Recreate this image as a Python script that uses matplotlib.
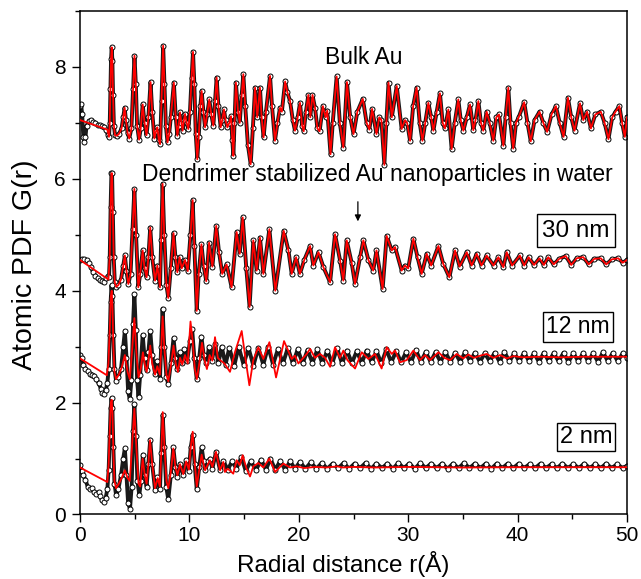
import matplotlib
matplotlib.use("Agg")
import matplotlib.pyplot as plt
from matplotlib.ticker import MultipleLocator

plt.rcParams['font.family'] = ['Liberation Sans', 'DejaVu Sans']

# ---------------- data: (r [Å], G(r)) ----------------
bulk_data = [
    (0.0, 7.30), (0.1, 7.33), (0.2, 7.15), (0.3, 6.75), (0.4, 6.66), (0.5, 6.75), (0.6, 6.95),
    (0.8, 7.03), (1.0, 7.05), (1.2, 7.02), (1.4, 7.00), (1.6, 6.97), (1.8, 6.96), (2.0, 6.94),
    (2.2, 6.92), (2.4, 6.88), (2.55, 6.78), (2.65, 6.75), (2.72, 7.0), (2.78, 7.6), (2.84, 8.15),
    (2.9, 8.35), (2.96, 8.1), (3.02, 7.5), (3.1, 6.95), (3.2, 6.78), (3.35, 6.77), (3.55, 6.8),
    (3.8, 6.9), (3.95, 7.1), (4.08, 7.27), (4.2, 7.05), (4.35, 6.82), (4.5, 6.72), (4.7, 6.9),
    (4.85, 7.6), (4.98, 8.2), (5.1, 7.7), (5.22, 6.95), (5.4, 6.7), (5.55, 6.9), (5.73, 7.33),
    (5.9, 7.0), (6.08, 6.78), (6.25, 7.1), (6.45, 7.73), (6.6, 7.2), (6.8, 6.72), (6.95, 6.85),
    (7.07, 6.92), (7.2, 6.7), (7.32, 6.62), (7.45, 7.4), (7.6, 8.38), (7.72, 7.7), (7.85, 6.95),
    (8.0, 6.65), (8.15, 6.8), (8.3, 7.1), (8.58, 7.72), (8.75, 7.1), (8.9, 6.77), (9.02, 6.95),
    (9.14, 7.19), (9.27, 7.0), (9.38, 6.86), (9.5, 7.05), (9.6, 7.16), (9.75, 7.0), (9.9, 6.89),
    (10.05, 7.2), (10.2, 7.8), (10.33, 8.27), (10.45, 7.7), (10.58, 6.8), (10.72, 6.35),
    (10.85, 6.75), (11.0, 7.3), (11.12, 7.57), (11.28, 7.2), (11.43, 6.92), (11.62, 7.15),
    (11.82, 7.42), (12.0, 7.15), (12.19, 6.95), (12.35, 7.4), (12.49, 7.81), (12.65, 7.3),
    (12.86, 6.92), (13.0, 7.05), (13.16, 7.24), (13.3, 7.05), (13.47, 6.92), (13.65, 7.0),
    (13.8, 7.12), (13.92, 6.7), (14.02, 6.41), (14.12, 7.0), (14.25, 7.72), (14.45, 7.2),
    (14.6, 7.0), (14.78, 7.5), (14.93, 7.87), (15.1, 7.3), (15.35, 6.6), (15.6, 6.26),
    (15.8, 6.9), (16.0, 7.63), (16.2, 7.1), (16.45, 7.63), (16.6, 7.1), (16.78, 6.74),
    (17.0, 7.2), (17.37, 7.84), (17.55, 7.3), (17.82, 6.68), (18.05, 7.0), (18.28, 7.27),
    (18.45, 7.2), (18.75, 7.74), (18.95, 7.55), (19.2, 7.39), (19.45, 7.05), (19.65, 6.86),
    (19.9, 7.1), (20.11, 7.36), (20.3, 6.95), (20.45, 6.85), (20.65, 7.2), (20.87, 7.5),
    (21.05, 7.1), (21.25, 7.5), (21.48, 7.27), (21.7, 6.9), (21.9, 6.85), (22.2, 7.3),
    (22.45, 7.1), (22.6, 7.22), (22.9, 6.44), (23.1, 7.0), (23.46, 7.83), (23.75, 7.0),
    (24.07, 6.56), (24.4, 7.73), (24.7, 7.1), (25.0, 6.8), (25.35, 7.2), (25.85, 7.43),
    (26.2, 7.0), (26.45, 6.88), (26.7, 7.25), (27.1, 6.8), (27.35, 7.1), (27.55, 7.05),
    (27.82, 6.25), (28.0, 7.0), (28.2, 7.72), (28.5, 7.1), (28.95, 7.66), (29.4, 6.89),
    (29.7, 7.05), (29.9, 7.0), (30.17, 6.68), (30.45, 7.3), (30.77, 7.63), (31.05, 7.0),
    (31.3, 6.68), (31.55, 7.0), (31.84, 7.36), (32.1, 7.1), (32.3, 6.86), (32.6, 7.2),
    (32.9, 7.53), (33.15, 7.0), (33.36, 6.9), (33.67, 7.24), (33.97, 6.53), (34.25, 7.0),
    (34.58, 7.42), (34.8, 7.05), (35.04, 6.86), (35.35, 7.1), (35.65, 7.33), (35.95, 6.87),
    (36.15, 7.05), (36.41, 7.39), (36.65, 7.0), (36.86, 6.86), (37.17, 7.2), (37.45, 7.0),
    (37.78, 6.68), (38.05, 7.1), (38.3, 7.15), (38.7, 6.59), (38.9, 7.1), (39.15, 7.63),
    (39.35, 7.0), (39.6, 6.54), (39.85, 7.0), (40.1, 7.1), (40.6, 7.37), (40.9, 7.0),
    (41.2, 6.67), (41.55, 7.05), (42.0, 7.2), (42.35, 7.0), (42.7, 6.84), (43.1, 7.15),
    (43.5, 7.3), (43.85, 7.0), (44.2, 6.75), (44.6, 7.45), (44.9, 7.1), (45.2, 6.86),
    (45.7, 7.35), (46.0, 7.05), (46.35, 7.2), (46.7, 6.9), (47.1, 7.15), (47.6, 7.2),
    (47.95, 7.0), (48.3, 6.71), (48.65, 7.1), (48.95, 7.2), (49.3, 7.3), (49.55, 7.0),
    (49.8, 6.75), (50.0, 7.1),
]
bulk_fit_start = [(0.0, 7.05), (2.5, 6.88)]

nm30_data = [
    (0.0, 4.55), (0.2, 4.56), (0.4, 4.56), (0.6, 4.55), (0.8, 4.5), (1.0, 4.42), (1.2, 4.33),
    (1.4, 4.27), (1.6, 4.22), (1.8, 4.2), (2.0, 4.17), (2.2, 4.16), (2.4, 4.22), (2.55, 4.26),
    (2.65, 4.24), (2.72, 4.6), (2.8, 5.5), (2.87, 6.1), (2.93, 6.1), (3.0, 5.4), (3.08, 4.6),
    (3.18, 4.15), (3.3, 4.07), (3.5, 4.1), (3.75, 4.2), (3.95, 4.45), (4.1, 4.63), (4.25, 4.35),
    (4.42, 4.12), (4.62, 4.3), (4.8, 5.1), (4.97, 5.82), (5.12, 5.0), (5.33, 4.06), (5.5, 4.3),
    (5.73, 4.72), (5.9, 4.4), (6.09, 4.24), (6.25, 4.6), (6.42, 5.13), (6.6, 4.6), (6.86, 4.18),
    (7.07, 4.45), (7.31, 4.06), (7.42, 4.9), (7.55, 5.91), (7.7, 5.0), (7.9, 4.1), (8.07, 3.87),
    (8.3, 4.4), (8.55, 5.03), (8.72, 4.6), (8.9, 4.33), (9.1, 4.6), (9.3, 4.4), (9.6, 4.55),
    (9.85, 4.35), (10.1, 5.0), (10.3, 5.62), (10.45, 4.8), (10.67, 3.64), (10.85, 4.3),
    (11.1, 4.83), (11.3, 4.45), (11.54, 4.17), (11.8, 4.86), (12.1, 4.43), (12.45, 5.16),
    (12.7, 4.7), (13.0, 4.3), (13.4, 4.47), (13.86, 4.06), (14.32, 5.05), (14.6, 4.66),
    (14.87, 5.31), (15.2, 4.4), (15.5, 3.71), (15.84, 4.9), (16.15, 4.36), (16.45, 4.95),
    (16.76, 4.3), (17.31, 5.1), (17.85, 4.0), (18.62, 5.07), (19.05, 4.72), (19.35, 4.3),
    (19.75, 4.6), (20.1, 4.3), (20.5, 4.55), (21.03, 4.8), (21.33, 4.45), (21.8, 4.69),
    (22.25, 4.42), (22.86, 4.15), (23.31, 5.01), (23.77, 4.54), (24.07, 4.18), (24.38, 4.9),
    (24.83, 4.5), (25.14, 4.12), (25.6, 4.6), (25.9, 4.9), (26.36, 4.55), (26.8, 4.36),
    (27.1, 4.72), (27.66, 4.03), (28.03, 4.98), (28.5, 4.72), (28.8, 4.78), (29.4, 4.36),
    (29.7, 4.45), (30.0, 4.4), (30.47, 4.93), (30.85, 4.6), (31.23, 4.3), (31.69, 4.66),
    (32.1, 4.45), (32.76, 4.8), (33.2, 4.48), (33.76, 4.24), (34.28, 4.72), (34.7, 4.43),
    (35.35, 4.69), (35.8, 4.45), (36.26, 4.66), (36.7, 4.45), (37.17, 4.63), (37.8, 4.45),
    (38.24, 4.6), (38.7, 4.42), (39.0, 4.69), (39.5, 4.45), (40.2, 4.63), (40.6, 4.45),
    (41.0, 4.6), (41.5, 4.46), (42.0, 4.58), (42.4, 4.46), (42.8, 4.6), (43.3, 4.47),
    (43.8, 4.57), (44.4, 4.62), (44.9, 4.46), (45.4, 4.58), (46.0, 4.6), (46.5, 4.47),
    (47.0, 4.57), (47.6, 4.58), (48.1, 4.47), (48.6, 4.56), (49.2, 4.58), (49.6, 4.5),
    (50.0, 4.55),
]
nm30_fit_start = [(0.0, 4.55), (2.6, 4.2)]

nm12_data = [
    (0.0, 2.85), (0.15, 2.8), (0.3, 2.68), (0.5, 2.6), (0.7, 2.57), (0.9, 2.52), (1.1, 2.5),
    (1.3, 2.48), (1.5, 2.42), (1.7, 2.35), (1.9, 2.25), (2.05, 2.18), (2.2, 2.16), (2.35, 2.22),
    (2.5, 2.35), (2.62, 2.6), (2.72, 3.2), (2.8, 3.8), (2.88, 4.1), (2.96, 3.9), (3.05, 3.2),
    (3.15, 2.6), (3.3, 2.39), (3.5, 2.45), (3.75, 2.6), (3.95, 3.0), (4.1, 3.28), (4.25, 2.8),
    (4.4, 2.2), (4.55, 2.06), (4.7, 2.4), (4.85, 3.4), (4.97, 3.94), (5.1, 3.3), (5.22, 2.4),
    (5.35, 2.1), (5.5, 2.5), (5.73, 3.21), (5.9, 2.8), (6.09, 2.58), (6.25, 2.9), (6.42, 3.28),
    (6.6, 2.85), (6.86, 2.52), (7.07, 2.75), (7.31, 2.43), (7.42, 3.0), (7.55, 3.68), (7.7, 3.0),
    (7.9, 2.45), (8.07, 2.33), (8.3, 2.7), (8.55, 3.15), (8.72, 2.8), (8.9, 2.6), (9.1, 2.9),
    (9.3, 2.7), (9.55, 2.95), (9.8, 2.75), (10.05, 3.1), (10.25, 3.31), (10.45, 2.8),
    (10.67, 2.42), (10.9, 2.8), (11.1, 3.18), (11.3, 2.85), (11.55, 2.7), (11.8, 3.0),
    (12.05, 2.75), (12.35, 3.05), (12.65, 2.7), (12.95, 3.0), (13.3, 2.68), (13.65, 2.98),
    (14.1, 2.66), (14.5, 3.0), (14.95, 2.68), (15.4, 2.98), (15.85, 2.66), (16.3, 2.98),
    (16.75, 2.68), (17.2, 3.0), (17.65, 2.68), (18.1, 2.96), (18.55, 2.7), (19.0, 2.98),
    (19.45, 2.7), (19.9, 2.95), (20.35, 2.7), (20.8, 2.94), (21.25, 2.71), (21.7, 2.95),
    (22.15, 2.7), (22.6, 2.93), (23.05, 2.7), (23.5, 2.97), (23.95, 2.7), (24.4, 2.93),
    (24.85, 2.71), (25.3, 2.92), (25.75, 2.71), (26.2, 2.93), (26.65, 2.72), (27.1, 2.92),
    (27.55, 2.7), (28.0, 2.95), (28.45, 2.72), (28.9, 2.92), (29.35, 2.72), (29.8, 2.9),
    (30.25, 2.72), (30.7, 2.94), (31.15, 2.73), (31.6, 2.9), (32.05, 2.73), (32.5, 2.9),
    (32.95, 2.73), (33.4, 2.9), (33.85, 2.73), (34.3, 2.89), (34.75, 2.73), (35.2, 2.9),
    (35.65, 2.74), (36.1, 2.89), (36.55, 2.73), (37.0, 2.88), (37.45, 2.74), (37.9, 2.89),
    (38.35, 2.73), (38.8, 2.9), (39.25, 2.74), (39.7, 2.88), (40.15, 2.74), (40.6, 2.89),
    (41.05, 2.74), (41.5, 2.88), (41.95, 2.73), (42.4, 2.89), (42.85, 2.74), (43.3, 2.88),
    (43.75, 2.74), (44.2, 2.89), (44.65, 2.73), (45.1, 2.88), (45.55, 2.74), (46.0, 2.89),
    (46.45, 2.74), (46.9, 2.88), (47.35, 2.73), (47.8, 2.9), (48.25, 2.74), (48.7, 2.89),
    (49.15, 2.74), (49.6, 2.88), (50.0, 2.8),
]
nm12_fit = [
    (0.0, 2.79), (2.45, 2.49), (2.6, 2.7), (2.72, 3.3), (2.82, 3.9), (2.9, 4.0), (2.97, 3.7),
    (3.05, 3.0), (3.15, 2.55), (3.3, 2.42), (3.55, 2.5), (3.8, 2.62), (4.1, 2.85), (4.35, 2.55),
    (4.55, 2.42), (4.75, 2.9), (4.97, 3.51), (5.15, 2.9), (5.35, 2.45), (5.55, 2.6), (5.75, 2.9),
    (5.95, 2.65), (6.1, 2.55), (6.25, 2.75), (6.42, 3.02), (6.6, 2.7), (6.86, 2.5), (7.07, 2.65),
    (7.3, 2.5), (7.43, 3.0), (7.55, 3.54), (7.7, 3.0), (7.9, 2.5), (8.07, 2.38), (8.3, 2.65),
    (8.55, 3.02), (8.75, 2.7), (8.95, 2.55), (9.15, 2.8), (9.35, 2.68), (9.6, 2.85), (9.85, 2.7),
    (10.1, 3.45), (10.3, 3.1), (10.5, 2.6), (10.68, 2.42), (10.9, 2.7), (11.15, 3.07),
    (11.4, 2.75), (11.6, 2.6), (11.85, 2.85), (12.1, 2.75), (12.34, 3.17), (12.6, 2.8),
    (12.8, 2.76), (13.2, 2.7), (13.71, 2.55), (14.16, 2.9), (14.78, 3.28), (15.08, 2.85),
    (15.48, 2.31), (15.84, 2.76), (16.3, 2.99), (16.76, 2.78), (17.31, 3.08), (17.92, 2.45),
    (18.65, 3.1), (19.05, 2.92), (19.35, 2.78), (19.65, 2.84), (19.96, 2.7), (20.72, 2.87),
    (21.03, 2.96), (21.48, 2.8), (21.94, 2.87), (22.4, 2.8), (22.86, 2.64), (23.31, 2.99),
    (23.77, 2.8), (24.07, 2.93), (24.44, 2.76), (25.14, 2.61), (25.75, 2.9), (26.36, 2.78),
    (26.97, 2.87), (27.57, 2.61), (28.03, 2.99), (28.5, 2.87), (28.8, 2.93), (29.25, 2.72),
    (29.86, 2.76), (30.47, 2.93), (31.08, 2.76), (31.54, 2.85), (32.0, 2.76), (32.76, 2.9),
    (33.3, 2.8), (33.83, 2.76), (34.43, 2.87), (35.04, 2.79), (35.5, 2.86), (36.0, 2.8),
    (36.6, 2.84), (37.17, 2.87), (37.8, 2.8), (38.4, 2.85), (39.0, 2.79), (39.6, 2.83),
    (40.5, 2.81), (42.0, 2.82), (44.0, 2.81), (46.0, 2.82), (48.0, 2.82), (50.0, 2.82),
]

nm2_data = [
    (0.0, 0.88), (0.15, 0.78), (0.3, 0.7), (0.5, 0.62), (0.7, 0.5), (0.9, 0.45), (1.1, 0.47),
    (1.3, 0.4), (1.5, 0.37), (1.7, 0.4), (1.85, 0.33), (2.0, 0.26), (2.2, 0.22), (2.35, 0.3),
    (2.5, 0.45), (2.62, 0.8), (2.72, 1.4), (2.8, 1.9), (2.88, 2.08), (2.96, 1.9), (3.05, 1.2),
    (3.15, 0.55), (3.3, 0.35), (3.5, 0.45), (3.75, 0.7), (3.95, 1.0), (4.1, 1.18), (4.25, 0.7),
    (4.4, 0.2), (4.57, 0.1), (4.72, 0.5), (4.85, 1.5), (4.97, 1.98), (5.1, 1.4), (5.25, 0.6),
    (5.42, 0.35), (5.58, 0.6), (5.75, 1.07), (5.92, 0.7), (6.09, 0.5), (6.25, 0.9), (6.42, 1.34),
    (6.6, 0.9), (6.86, 0.44), (7.07, 0.67), (7.31, 0.46), (7.43, 1.1), (7.56, 1.78), (7.7, 1.2),
    (7.88, 0.5), (8.07, 0.27), (8.3, 0.7), (8.53, 1.2), (8.72, 0.85), (8.9, 0.67), (9.14, 0.91),
    (9.44, 0.7), (9.7, 0.97), (9.95, 0.78), (10.12, 1.2), (10.3, 1.42), (10.48, 0.9),
    (10.67, 0.45), (10.9, 0.85), (11.12, 1.2), (11.3, 0.95), (11.45, 0.79), (11.7, 0.95),
    (11.88, 1.0), (12.1, 0.82), (12.43, 1.12), (12.8, 0.79), (13.1, 0.96), (13.5, 0.8),
    (13.9, 0.95), (14.3, 0.82), (14.75, 1.02), (15.15, 0.78), (15.6, 0.95), (16.1, 0.8),
    (16.55, 0.98), (17.0, 0.8), (17.4, 1.0), (17.85, 0.8), (18.3, 0.96), (18.75, 0.8),
    (19.2, 0.95), (19.65, 0.82), (20.1, 0.94), (20.6, 0.82), (21.1, 0.93), (21.6, 0.82),
    (22.1, 0.92), (22.6, 0.82), (23.1, 0.91), (23.6, 0.83), (24.1, 0.92), (24.6, 0.82),
    (25.1, 0.91), (25.6, 0.83), (26.1, 0.92), (26.6, 0.82), (27.1, 0.91), (27.6, 0.83),
    (28.1, 0.91), (28.6, 0.82), (29.1, 0.92), (29.6, 0.83), (30.1, 0.91), (30.6, 0.82),
    (31.1, 0.92), (31.6, 0.83), (32.1, 0.91), (32.6, 0.83), (33.1, 0.91), (33.6, 0.82),
    (34.1, 0.91), (34.6, 0.83), (35.1, 0.92), (35.6, 0.83), (36.1, 0.91), (36.6, 0.83),
    (37.1, 0.91), (37.6, 0.82), (38.1, 0.91), (38.6, 0.83), (39.1, 0.91), (39.6, 0.83),
    (40.1, 0.91), (40.6, 0.83), (41.1, 0.9), (41.6, 0.83), (42.1, 0.91), (42.6, 0.83),
    (43.1, 0.9), (43.6, 0.83), (44.1, 0.91), (44.6, 0.83), (45.1, 0.9), (45.6, 0.83),
    (46.1, 0.91), (46.6, 0.83), (47.1, 0.9), (47.6, 0.83), (48.1, 0.91), (48.6, 0.83),
    (49.1, 0.9), (49.6, 0.83), (50.0, 0.87),
]
nm2_fit = [
    (0.0, 0.84), (2.5, 0.58), (2.62, 0.9), (2.72, 1.5), (2.82, 2.0), (2.9, 2.05), (2.97, 1.8),
    (3.05, 1.1), (3.15, 0.6), (3.3, 0.47), (3.55, 0.55), (3.8, 0.65), (4.1, 0.79), (4.35, 0.65),
    (4.55, 0.6), (4.75, 1.2), (4.97, 1.89), (5.15, 1.2), (5.35, 0.55), (5.5, 0.5), (5.73, 1.0),
    (5.92, 0.7), (6.09, 0.55), (6.25, 0.9), (6.4, 1.33), (6.6, 0.9), (6.86, 0.47), (7.1, 0.65),
    (7.3, 0.5), (7.43, 1.1), (7.56, 1.83), (7.72, 1.2), (7.9, 0.6), (8.07, 0.47), (8.3, 0.75),
    (8.53, 1.18), (8.72, 0.85), (8.9, 0.7), (9.14, 0.9), (9.44, 0.72), (9.7, 0.95), (9.95, 0.8),
    (10.12, 1.2), (10.3, 1.48), (10.48, 0.95), (10.67, 0.5), (10.9, 0.8), (11.12, 1.07),
    (11.3, 0.9), (11.43, 0.79), (11.7, 0.9), (11.88, 0.97), (12.1, 0.85), (12.43, 1.12),
    (12.8, 0.79), (13.1, 0.94), (13.25, 0.76), (13.5, 0.82), (14.01, 0.73), (14.32, 0.97),
    (14.6, 0.88), (14.87, 1.06), (15.2, 0.83), (15.54, 0.68), (15.84, 0.86), (16.3, 0.92),
    (16.76, 0.84), (17.31, 1.0), (17.83, 0.76), (18.59, 0.91), (19.2, 0.84), (19.8, 0.86),
    (20.5, 0.83), (21.5, 0.85), (22.5, 0.84), (23.5, 0.86), (24.0, 0.84), (25.0, 0.85),
    (27.0, 0.84), (30.0, 0.85), (35.0, 0.84), (40.0, 0.845), (45.0, 0.845), (50.0, 0.845),
]

size_labels = ["30 nm", "12 nm", "2 nm"]
x_ticks = [0, 10, 20, 30, 40, 50]
y_ticks = [0, 2, 4, 6, 8]


def split(points):
    return [p[0] for p in points], [p[1] for p in points]


# fits for bulk and 30 nm coincide with the data after the first peak onset
bulk_fit = bulk_fit_start + [p for p in bulk_data if p[0] >= 2.65]
nm30_fit = nm30_fit_start + [p for p in nm30_data if p[0] >= 2.72]

fig = plt.figure(figsize=(6.41, 5.79), dpi=100)
ax = fig.add_axes([0.1248, 0.1114, 0.8534, 0.8696])

for data, fit in [(bulk_data, bulk_fit), (nm30_data, nm30_fit),
                  (nm12_data, nm12_fit), (nm2_data, nm2_fit)]:
    dr, dg = split(data)
    fr, fg = split(fit)
    # experimental data: open circles forming a dense dark chain
    ax.plot(dr, dg, '-', color='#1a1a1a', lw=2.8, solid_joinstyle='round', zorder=2)
    ax.plot(dr, dg, 'o', ms=3.6, mfc='white', mec='black', mew=0.7, zorder=2.5)
    # model fit: red line
    ax.plot(fr, fg, '-', color='red', lw=1.3, zorder=3)

ax.set_xlim(0, 50)
ax.set_ylim(0, 9)
ax.set_xticks(x_ticks)
ax.set_yticks(y_ticks)
ax.xaxis.set_minor_locator(MultipleLocator(5))
ax.yaxis.set_minor_locator(MultipleLocator(1))
ax.tick_params(which='major', direction='out', length=6.0, width=1.0,
               labelsize=15, pad=2.5)
ax.tick_params(which='minor', direction='out', length=3.5, width=1.0)
ax.tick_params(axis='y', which='major', pad=4)
for s in ax.spines.values():
    s.set_linewidth(1.1)

ax.set_xlabel("Radial distance r(Å)", fontsize=17.5)
ax.xaxis.set_label_coords(0.481, -0.1135)
ax.xaxis.label.set_va('baseline')
ax.set_ylabel("Atomic PDF G(r)", fontsize=20.5)
ax.yaxis.set_label_coords(-0.1005, 0.4955)
ax.yaxis.label.set_va('center')

ax.text(25.9, 8.16, "Bulk Au", ha='center', va='center', fontsize=16.5, zorder=5)
ax.text(27.15, 6.08, "Dendrimer stabilized Au nanoparticles in water",
        ha='center', va='center', fontsize=16.5, zorder=5)
ax.annotate('', xy=(25.4, 5.24), xytext=(25.4, 5.59),
            arrowprops=dict(arrowstyle='-|>', color='black', lw=0.9,
                            mutation_scale=9, shrinkA=0, shrinkB=0), zorder=5)

box_pos = [(45.34, 5.075, 17.5, 0.22), (45.52, 3.354, 16.5, 0.16), (46.25, 1.382, 17.0, 0.13)]
for label, (bx, by, fs, pad) in zip(size_labels, box_pos):
    ax.text(bx, by, label, ha='center', va='center', fontsize=fs, zorder=6,
            bbox=dict(boxstyle=f'square,pad={pad}', fc='white', ec='black', lw=1.0))

fig.savefig("out.png", dpi=100)
